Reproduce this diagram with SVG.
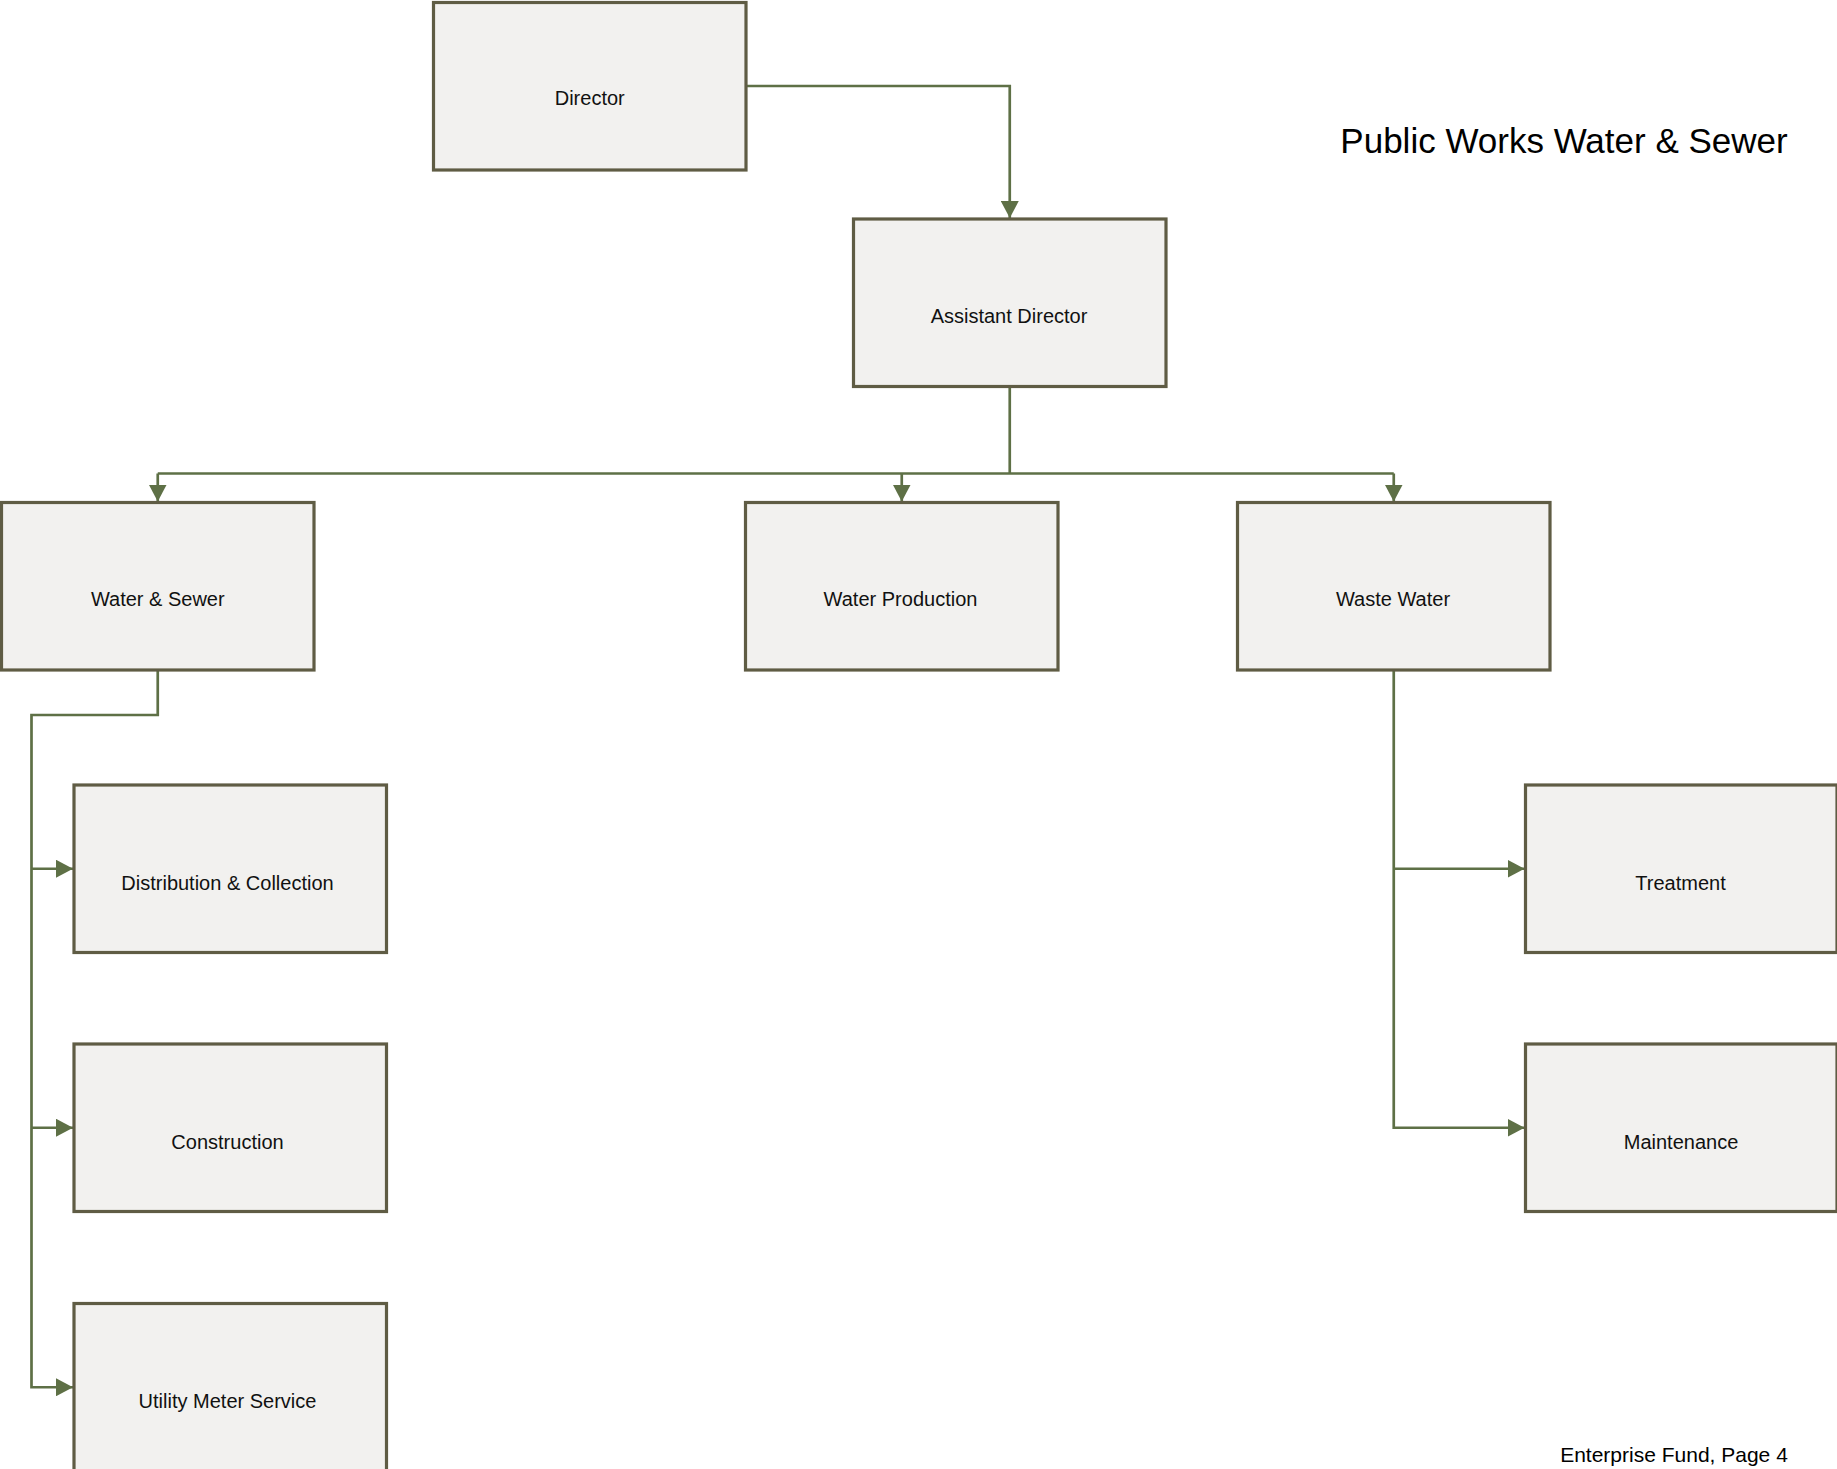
<svg xmlns="http://www.w3.org/2000/svg" width="1837" height="1469" viewBox="0 0 1837 1469">
  <style>
    .box { fill: #f2f1ef; stroke: #5f5c44; stroke-width: 3.2; }
    .lbl { font-family: "Liberation Sans", Arial, sans-serif; font-size: 20px; fill: #111; text-anchor: middle; }
    .link { fill: none; stroke: #5e7046; stroke-width: 2.7; }
    .title { font-family: "Liberation Sans", Arial, sans-serif; font-size: 35px; fill: #000; text-anchor: middle; }
    .foot { font-family: "Liberation Sans", Arial, sans-serif; font-size: 21px; fill: #000; text-anchor: middle; }
  </style>
  <defs>
    <marker id="arrow" viewBox="0 0 17 18" refX="17" refY="9" markerWidth="17" markerHeight="18" markerUnits="userSpaceOnUse" orient="auto">
      <path d="M0,0 L17,9 L0,18 z" fill="#5e7046"/>
    </marker>
  </defs>
  <rect width="1837" height="1469" fill="#ffffff"/>

  <!-- connectors -->
  <g id="connectors">
    <path class="link" d="M746,86 H1009.75 V218" marker-end="url(#arrow)"/>
    <path class="link" d="M1009.75,386.5 V473.5"/>
    <path class="link" d="M157.75,473.5 H1393.75"/>
    <path class="link" d="M157.75,473.5 V501.5" marker-end="url(#arrow)"/>
    <path class="link" d="M901.75,473.5 V501.5" marker-end="url(#arrow)"/>
    <path class="link" d="M1393.75,473.5 V501.5" marker-end="url(#arrow)"/>
    <path class="link" d="M157.75,670 V715 H31.5 V1387.25 H73" marker-end="url(#arrow)"/>
    <path class="link" d="M31.5,868.75 H73" marker-end="url(#arrow)"/>
    <path class="link" d="M31.5,1127.75 H73" marker-end="url(#arrow)"/>
    <path class="link" d="M1393.75,670 V1127.75 H1524.5" marker-end="url(#arrow)"/>
    <path class="link" d="M1393.75,868.75 H1524.5" marker-end="url(#arrow)"/>
  </g>

  <!-- nodes -->
  <g id="director">
    <rect class="box" x="433.5" y="2.5" width="312.5" height="167.5"/>
    <text class="lbl" x="589.75" y="105">Director</text>
  </g>
  <g id="assistant-director">
    <rect class="box" x="853.5" y="219" width="312.5" height="167.5"/>
    <text class="lbl" x="1009" y="323">Assistant Director</text>
  </g>
  <g id="water-sewer">
    <rect class="box" x="1.5" y="502.5" width="312.5" height="167.5"/>
    <text class="lbl" x="157.75" y="606">Water &amp; Sewer</text>
  </g>
  <g id="water-production">
    <rect class="box" x="745.5" y="502.5" width="312.5" height="167.5"/>
    <text class="lbl" x="900.5" y="606">Water Production</text>
  </g>
  <g id="waste-water">
    <rect class="box" x="1237.5" y="502.5" width="312.5" height="167.5"/>
    <text class="lbl" x="1393" y="606">Waste Water</text>
  </g>
  <g id="distribution-collection">
    <rect class="box" x="74" y="785" width="312.5" height="167.5"/>
    <text class="lbl" x="227.5" y="890">Distribution &amp; Collection</text>
  </g>
  <g id="construction">
    <rect class="box" x="74" y="1044" width="312.5" height="167.5"/>
    <text class="lbl" x="227.5" y="1149">Construction</text>
  </g>
  <g id="utility-meter-service">
    <rect class="box" x="74" y="1303.5" width="312.5" height="167.5"/>
    <text class="lbl" x="227.5" y="1408">Utility Meter Service</text>
  </g>
  <g id="treatment">
    <rect class="box" x="1525.5" y="785" width="311.5" height="167.5"/>
    <text class="lbl" x="1680.5" y="890">Treatment</text>
  </g>
  <g id="maintenance">
    <rect class="box" x="1525.5" y="1044" width="311.5" height="167.5"/>
    <text class="lbl" x="1681" y="1149">Maintenance</text>
  </g>

  <!-- page text -->
  <text class="title" x="1564" y="153">Public Works Water &amp; Sewer</text>
  <text class="foot" x="1674" y="1462">Enterprise Fund, Page 4</text>
</svg>
